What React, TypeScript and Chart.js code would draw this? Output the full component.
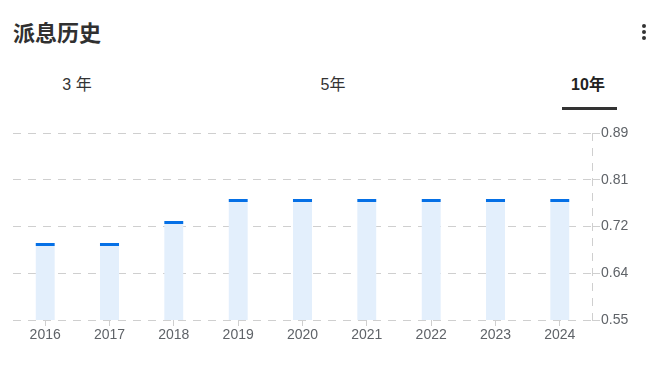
import React, { useEffect, useRef } from "react";
import { Chart, registerables } from "chart.js";

Chart.register(...registerables);

const years = ["2016", "2017", "2018", "2019", "2020", "2021", "2022", "2023", "2024"];
const dividends = [0.69, 0.69, 0.73, 0.77, 0.77, 0.77, 0.77, 0.77, 0.77];
const yTickValues = [0.55, 0.635, 0.72, 0.805, 0.89];
const yTickLabels = ["0.55", "0.64", "0.72", "0.81", "0.89"];
const tabs = ["3 年", "5年", "10年"];

const FONT = "'Liberation Sans', Arial, 'Noto Sans CJK SC', sans-serif";
const GRID = "#cfcfcf";

const dashedRightBorder = {
  id: "dashedRightBorder",
  beforeDatasetsDraw(chart: any) {
    const { ctx, chartArea } = chart;
    ctx.save();
    ctx.strokeStyle = GRID;
    ctx.lineWidth = 1;
    ctx.setLineDash([8, 7]);
    const x = Math.round(chartArea.right) + 0.5;
    ctx.beginPath();
    ctx.moveTo(x, chartArea.top);
    ctx.lineTo(x, chartArea.bottom);
    ctx.stroke();
    ctx.restore();
  },
};

function DividendChart() {
  const ref = useRef<HTMLCanvasElement | null>(null);
  useEffect(() => {
    if (!ref.current) return;
    const chart = new Chart(ref.current, {
      type: "bar",
      data: {
        labels: years,
        datasets: [
          {
            data: dividends,
            backgroundColor: "#e3effc",
            borderColor: "#0570e6",
            borderWidth: { top: 3, right: 0, bottom: 0, left: 0 },
            borderSkipped: false,
            barPercentage: 0.3,
            categoryPercentage: 1,
          },
        ],
      },
      options: {
        responsive: false,
        animation: false,
        layout: { padding: { left: 13, top: 23, right: 0, bottom: 0 } },
        plugins: { legend: { display: false }, tooltip: { enabled: false } },
        scales: {
          x: {
            offset: true,
            grid: {
              offset: false,
              drawOnChartArea: false,
              drawTicks: true,
              tickLength: 6,
              color: GRID,
            },
            border: { display: false },
            ticks: {
              color: "#5f6368",
              font: { family: FONT, size: 14 },
              padding: 1,
              maxRotation: 0,
              autoSkip: false,
            },
            afterFit: (s: any) => {
              s.height = 30;
            },
          },
          y: {
            position: "right",
            min: 0.55,
            max: 0.89,
            afterBuildTicks: (s: any) => {
              s.ticks = yTickValues.map((v) => ({ value: v }));
            },
            grid: {
              color: GRID,
              tickLength: 8,
              drawTicks: true,
            },
            border: { display: false, dash: [8, 7] },
            ticks: {
              color: "#5f6368",
              font: { family: FONT, size: 14 },
              padding: 1,
              callback: (_v: any, i: number) => yTickLabels[i],
            },
            afterFit: (s: any) => {
              s.width = 75;
            },
          },
        },
      },
      plugins: [dashedRightBorder],
    });
    return () => chart.destroy();
  }, []);
  return <canvas ref={ref} width={667} height={240} style={{ display: "block" }} />;
}

export default function App() {
  const tabCenters = [77, 333, 588];
  return (
    <div
      style={{
        position: "fixed",
        left: 0,
        top: 0,
        width: 667,
        height: 370,
        background: "#fff",
        overflow: "hidden",
        fontFamily: FONT,
      }}
    >
      <div
        style={{
          position: "absolute",
          left: 13,
          top: 20,
          height: 22,
          lineHeight: "22px",
          fontSize: 22,
          fontWeight: 700,
          color: "#303030",
          fontFamily: "'Noto Sans CJK SC', sans-serif",
          whiteSpace: "nowrap",
        }}
      >
        派息历史
      </div>
      {[26, 32, 38].map((y) => (
        <div
          key={y}
          style={{
            position: "absolute",
            left: 642,
            top: y - 2,
            width: 4,
            height: 4,
            borderRadius: 2,
            background: "#333",
          }}
        />
      ))}
      {tabs.map((t, i) => (
        <div
          key={t}
          style={{
            position: "absolute",
            left: tabCenters[i] - 50,
            width: 100,
            top: 75,
            height: 20,
            lineHeight: "20px",
            textAlign: "center",
            fontSize: 16,
            fontWeight: i === 2 ? 700 : 400,
            color: i === 2 ? "#222" : "#333",
            whiteSpace: "nowrap",
          }}
        >
          {t}
        </div>
      ))}
      <div
        style={{
          position: "absolute",
          left: 562,
          top: 107,
          width: 55,
          height: 3,
          background: "#333",
        }}
      />
      <div style={{ position: "absolute", left: 0, top: 110, width: 667, height: 240 }}>
        <DividendChart />
      </div>
    </div>
  );
}
